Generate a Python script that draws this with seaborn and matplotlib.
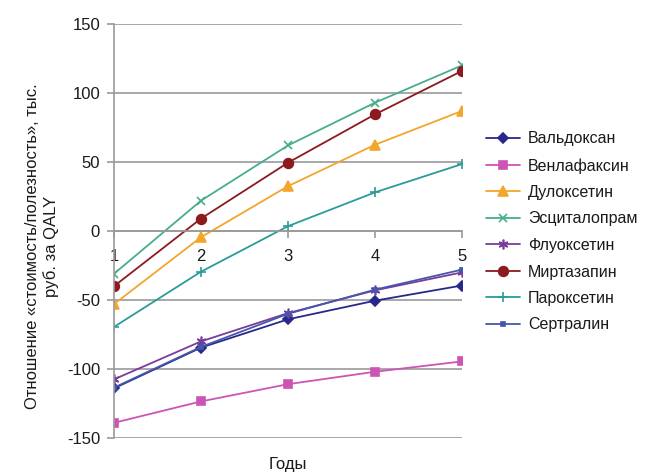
import matplotlib
matplotlib.use("Agg")
import matplotlib.pyplot as plt
import seaborn as sns
import pandas as pd

years = [1, 2, 3, 4, 5]
drugs = ["Вальдоксан", "Венлафаксин", "Дулоксетин", "Эсциталопрам",
         "Флуоксетин", "Миртазапин", "Пароксетин", "Сертралин"]
valdoxan = [-114, -84.5, -64, -50.5, -39.5]
venlafaxin = [-139, -123.5, -111, -102, -94.5]
duloxetin = [-53, -4.5, 32.5, 62.5, 87]
escitalopram = [-31, 22, 62, 93, 120]
fluoxetin = [-107.5, -80, -59.5, -43, -30]
mirtazapin = [-40, 9, 49.5, 84.5, 116]
paroxetin = [-69.5, -29.5, 3.5, 28, 48.5]
sertralin = [-113.5, -84, -60, -42.5, -28]

series = [valdoxan, venlafaxin, duloxetin, escitalopram,
          fluoxetin, mirtazapin, paroxetin, sertralin]

rows = []
for name, vals in zip(drugs, series):
    for x, v in zip(years, vals):
        rows.append({"Годы": x, "value": v, "drug": name})
df = pd.DataFrame(rows)

colors = {
    "Вальдоксан": "#27288a",
    "Венлафаксин": "#cc55b4",
    "Дулоксетин": "#f4a52c",
    "Эсциталопрам": "#47ad8c",
    "Флуоксетин": "#7a3b9c",
    "Миртазапин": "#8c1a1f",
    "Пароксетин": "#2a9c98",
    "Сертралин": "#4557ab",
}
markers = {
    "Вальдоксан": "D",
    "Венлафаксин": "s",
    "Дулоксетин": "^",
    "Эсциталопрам": "x",
    "Флуоксетин": (6, 2, 0),
    "Миртазапин": "o",
    "Пароксетин": "+",
    "Сертралин": "s",
}
msizes = {
    "Вальдоксан": 5,
    "Венлафаксин": 6,
    "Дулоксетин": 6.5,
    "Эсциталопрам": 6,
    "Флуоксетин": 7,
    "Миртазапин": 7,
    "Пароксетин": 7,
    "Сертралин": 3.5,
}

sns.set_style("white")
plt.rcParams["font.family"] = ["Liberation Sans", "DejaVu Sans"]
plt.rcParams["axes.unicode_minus"] = False

fig = plt.figure(figsize=(6.45, 4.75), dpi=100)
ax = fig.add_axes([114 / 645, 1 - 438 / 475, (462 - 114) / 645, (438 - 24) / 475])

for name in drugs:
    sub = df[df["drug"] == name]
    sns.lineplot(data=sub, x="Годы", y="value", ax=ax, color=colors[name],
                 marker=markers[name], markersize=msizes[name],
                 markeredgecolor=colors[name], markerfacecolor=colors[name],
                 markeredgewidth=1.2, linewidth=1.3, label=name)

ax.set_xlim(1, 5)
ax.set_ylim(-150, 150)
ax.set_yticks([-150, -100, -50, 0, 50, 100, 150])
ax.set_xticks(years)
ax.set_xticklabels([str(y) for y in years])
ax.yaxis.grid(True, color="#9a9a9a", linewidth=1.2)
ax.xaxis.grid(False)
ax.set_axisbelow(True)

for s in ["top", "right"]:
    ax.spines[s].set_visible(False)
ax.spines["left"].set_color("#9a9a9a")
ax.spines["left"].set_linewidth(1.2)
ax.spines["bottom"].set_position(("data", 0))
ax.spines["bottom"].set_color("#9a9a9a")
ax.spines["bottom"].set_linewidth(1.2)

ax.tick_params(axis="y", direction="out", length=5, width=1.2, color="#9a9a9a",
               labelsize=12, pad=5, left=True)
ax.tick_params(axis="x", direction="out", length=5, width=1.2, color="#9a9a9a",
               labelsize=12, pad=8, bottom=True)
for t in ax.get_xticklabels() + ax.get_yticklabels():
    t.set_color("#1a1a1a")

ax.set_xlabel("")
ax.set_ylabel("")
fig.text(288 / 645, 1 - 464 / 475, "Годы", ha="center", va="center",
         fontsize=12, color="#1a1a1a")
fig.text(42 / 645, 1 - 246 / 475,
         "Отношение «стоимость/полезность», тыс.\nруб. за QALY",
         rotation=90, ha="center", va="center", multialignment="center",
         fontsize=12, color="#1a1a1a", linespacing=1.2)

handles, labels = ax.get_legend_handles_labels()
if ax.get_legend() is not None:
    ax.get_legend().remove()
leg = fig.legend(handles, labels, loc="center left",
                 bbox_to_anchor=(480 / 645, 1 - 232 / 475), frameon=False,
                 fontsize=11.5, handlelength=2.1, labelspacing=0.72,
                 handletextpad=0.5, borderaxespad=0)
for txt in leg.get_texts():
    txt.set_color("#1a1a1a")

fig.savefig("out.png", dpi=100)
